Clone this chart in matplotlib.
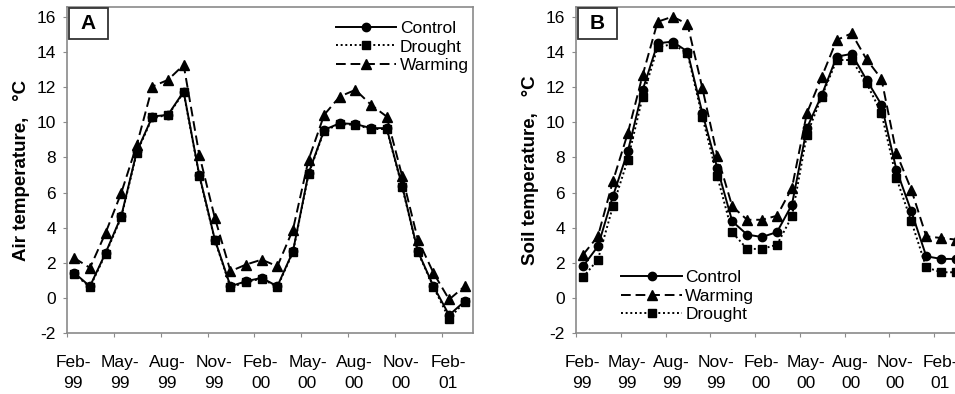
import matplotlib.pyplot as plt
import numpy as np
from matplotlib.patches import Rectangle

plt.rcParams['font.family'] = ['Liberation Sans', 'DejaVu Sans']
plt.rcParams['axes.unicode_minus'] = False

# monthly means, Feb-99 .. Mar-01
tick_labels = ["Feb-\n99", "May-\n99", "Aug-\n99", "Nov-\n99", "Feb-\n00",
               "May-\n00", "Aug-\n00", "Nov-\n00", "Feb-\n01"]

air_control = [1.42, 0.66, 2.56, 4.64, 8.34, 10.33, 10.43, 11.75, 7.01, 3.32, 0.66, 0.95, 1.14,
               0.66, 2.65, 7.10, 9.57, 9.95, 9.90, 9.67, 9.67, 6.35, 2.65, 0.66, -0.98, -0.19]
air_drought = [1.35, 0.62, 2.50, 4.58, 8.28, 10.28, 10.40, 11.70, 6.96, 3.28, 0.60, 0.90, 1.10,
               0.62, 2.60, 7.05, 9.52, 9.90, 9.86, 9.62, 9.62, 6.30, 2.60, 0.62, -1.18, -0.22]
air_warming = [2.27, 1.71, 3.70, 5.97, 8.72, 12.04, 12.42, 13.27, 8.15, 4.55, 1.52, 1.90, 2.18,
               1.80, 3.89, 7.87, 10.43, 11.47, 11.85, 11.00, 10.33, 6.92, 3.32, 1.42, -0.09, 0.66]

soil_control = [1.80, 2.94, 5.78, 8.34, 11.85, 14.50, 14.60, 14.03, 10.52, 7.39, 4.36, 3.60, 3.47,
                3.75, 5.31, 9.67, 11.56, 13.74, 13.90, 12.42, 11.00, 7.30, 4.93, 2.37, 2.22, 2.22]
soil_warming = [2.46, 3.51, 6.64, 9.38, 12.70, 15.73, 16.02, 15.60, 11.94, 8.09, 5.21, 4.45, 4.45,
                4.68, 6.26, 10.52, 12.60, 14.69, 15.07, 13.59, 12.47, 8.25, 6.16, 3.51, 3.41, 3.32]
soil_drought = [1.18, 2.18, 5.21, 7.87, 11.47, 14.27, 14.46, 13.93, 10.29, 6.92, 3.73, 2.79, 2.79,
                3.03, 4.64, 9.29, 11.47, 13.55, 13.55, 12.23, 10.52, 6.82, 4.36, 1.74, 1.46, 1.46]

x = np.arange(len(air_control)) + 0.47
frame = '#8a8a8a'

fig = plt.figure(figsize=(9.55, 3.94), dpi=100)
axA = fig.add_axes([67/955, 61/394, 406/955, 326/394])
axB = fig.add_axes([576/955, 61/394, 388/955, 326/394])

styles = {
    'Control': dict(ls='-', marker='o', ms=6),
    'Drought': dict(ls=(0, (1.0, 1.4)), marker='s', ms=6),
    'Warming': dict(ls=(0, (5, 2.5)), marker='^', ms=6.5),
}

def draw(ax, series, order):
    lines = {}
    for name, vals in series.items():
        st = styles[name]
        lines[name], = ax.plot(x, vals, color='black', lw=1.4, linestyle=st['ls'],
                               marker=st['marker'], ms=st['ms'], mfc='black', mec='black',
                               label=name, zorder=3)
    ax.set_xlim(0, 26)
    ax.set_ylim(-2, 16.57)
    ax.set_yticks(np.arange(-2, 17, 2))
    ax.set_xticks(np.arange(0, 25, 3))
    ax.set_xticklabels([])
    ax.set_xticks(np.arange(0, 25, 3) + 0.4, minor=True)
    ax.set_xticklabels(tick_labels, minor=True, fontsize=12.5, linespacing=1.45)
    ax.tick_params(axis='x', which='minor', length=0, pad=16)
    ax.tick_params(axis='x', which='major', length=3, color=frame, direction='out')
    ax.tick_params(axis='y', length=3, color=frame, labelsize=12.5, pad=5)
    for s in ax.spines.values():
        s.set_color(frame)
        s.set_linewidth(1.2)
    return [lines[n] for n in order]

hA = draw(axA, {'Control': air_control, 'Drought': air_drought, 'Warming': air_warming},
          ['Control', 'Drought', 'Warming'])
hB = draw(axB, {'Control': soil_control, 'Drought': soil_drought, 'Warming': soil_warming},
          ['Control', 'Warming', 'Drought'])

axA.legend(handles=hA, loc='upper right', bbox_to_anchor=(1.02, 0.995), frameon=False,
           fontsize=12.5, handlelength=3.5, handletextpad=0.2, labelspacing=0.2,
           borderaxespad=0.3)
axB.legend(handles=hB, loc='lower left', bbox_to_anchor=(0.085, -0.005), frameon=False,
           fontsize=12.5, handlelength=3.5, handletextpad=0.2, labelspacing=0.2,
           borderaxespad=0.3)

axA.set_ylabel("Air temperature,   \u00b0C", fontsize=13.5, fontweight='bold', labelpad=5)
axB.set_ylabel("Soil temperature,   \u00b0C", fontsize=13.5, fontweight='bold', labelpad=5)

for ax, letter, w in [(axA, 'A', 39/406), (axB, 'B', 39/388)]:
    h = 31/326
    ax.add_patch(Rectangle((0.004, 1 - h - 0.004), w, h, transform=ax.transAxes,
                           fc='white', ec='#333333', lw=1.3, zorder=5))
    ax.text(0.004 + w/2, 1 - 0.004 - h/2, letter, transform=ax.transAxes, fontsize=15,
            fontweight='bold', ha='center', va='center', zorder=6)

fig.savefig('out.png', dpi=100)
